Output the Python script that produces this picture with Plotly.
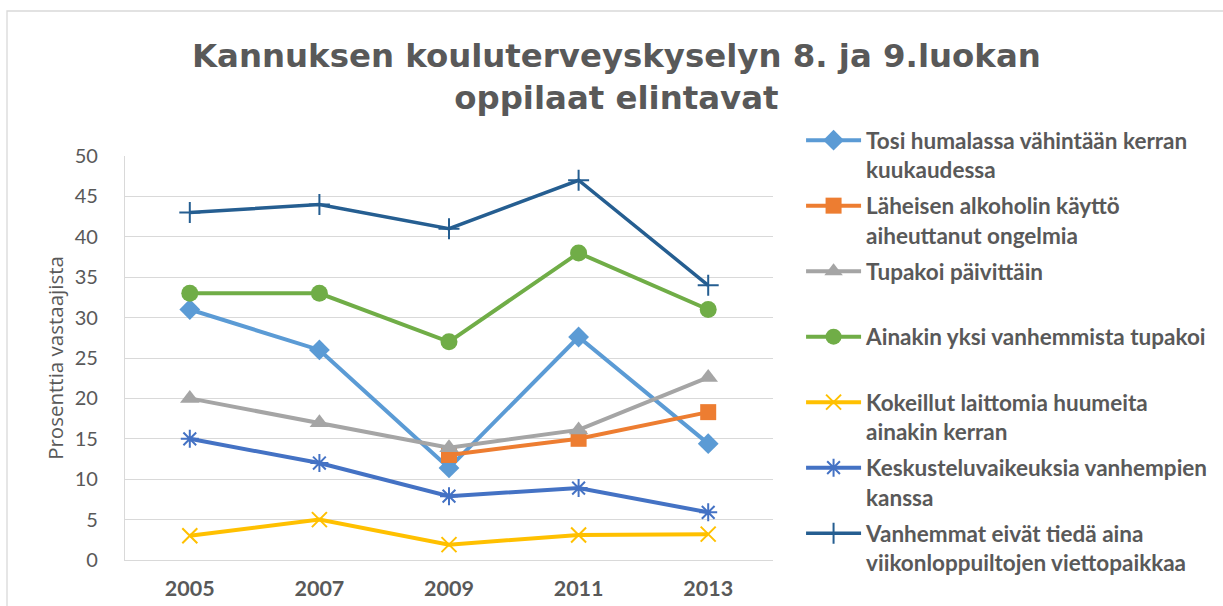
import plotly.graph_objects as go

years = ["2005", "2007", "2009", "2011", "2013"]

tosi_humalassa = [31, 26, 11.4, 27.6, 14.4]
laheisen_alkoholi = [None, None, 13.0, 15.0, 18.3]
tupakoi = [20, 17, 13.9, 16.1, 22.6]
vanhempi_tupakoi = [33, 33, 27, 38, 31]
huumeet = [3, 5, 1.9, 3.1, 3.2]
keskustelu = [15, 12, 7.9, 8.9, 5.9]
vanhemmat_eivat = [43, 44, 41, 47, 34]

series_names = [
    "Tosi humalassa vähintään kerran<br>kuukaudessa",
    "Läheisen alkoholin käyttö<br>aiheuttanut ongelmia",
    "Tupakoi päivittäin<br> ",
    "Ainakin yksi vanhemmista tupakoi<br> ",
    "Kokeillut laittomia huumeita<br>ainakin kerran",
    "Keskusteluvaikeuksia vanhempien<br>kanssa",
    "Vanhemmat eivät tiedä aina<br>viikonloppuiltojen viettopaikkaa",
]
series_values = [tosi_humalassa, laheisen_alkoholi, tupakoi, vanhempi_tupakoi,
                 huumeet, keskustelu, vanhemmat_eivat]
colors = ["#5B9BD5", "#ED7D31", "#A5A5A5", "#70AD47", "#FFC000", "#4472C4", "#255E91"]
symbols = ["diamond", "square", "triangle-up", "circle", "x-thin-open",
           "asterisk-open", "cross-thin-open"]
sizes = [16, 16, 17, 17, 15, 15, 15]

fig = go.Figure()
for name, vals, c, s, sz in zip(series_names, series_values, colors, symbols, sizes):
    thin = s.endswith("-open")
    fig.add_trace(go.Scatter(
        x=years, y=vals, name=name, mode="lines+markers",
        legendgroup=name,
        line=dict(color=c, width=4 if c != "#255E91" else 3.5),
        marker=dict(symbol=s, size=sz, color=c,
                    line=dict(color=c, width=2 if thin else 0)),
        connectgaps=False,
    ))

font_main = "Lato, 'Open Sans', sans-serif"
gray = "#595959"

fig.update_layout(
    template="none",
    width=1223, height=606,
    paper_bgcolor="white", plot_bgcolor="white",
    margin=dict(l=0, r=0, t=0, b=0, pad=0, autoexpand=False),
    title=dict(
        text="<b>Kannuksen kouluterveyskyselyn 8. ja 9.luokan<br>oppilaat elintavat</b>",
        x=0.504, xanchor="center", y=0.8895, yanchor="middle", automargin=False,
        font=dict(family="'DejaVu Sans', sans-serif", size=32.4, color=gray),
    ),
    legend=dict(
        x=0.655, xanchor="left", y=0.8036, yanchor="top",
        font=dict(family=font_main, size=22.5, color=gray, weight="bold"),
        valign="top", tracegroupgap=4, bgcolor="rgba(0,0,0,0)", borderwidth=0,
        itemwidth=55,
    ),
    showlegend=True,
)
fig.update_xaxes(
    type="category", range=[-0.5, 4.5], domain=[125 / 1223, 773 / 1223],
    automargin=False,
    showgrid=False, showline=True, linecolor="#D9D9D9", linewidth=1.3,
    ticks="", ticklabelstandoff=9,
    tickfont=dict(family=font_main, size=21.5, color=gray, weight="bold"),
)
fig.update_yaxes(
    range=[0, 50], dtick=5, tick0=0, domain=[46 / 606, 450 / 606],
    automargin=False,
    showgrid=True, gridcolor="#D9D9D9", gridwidth=1.3,
    showline=True, linecolor="#D9D9D9", linewidth=1.3,
    zeroline=False, ticks="", ticklabelstandoff=22,
    tickfont=dict(family=font_main, size=20, color=gray),
    title=dict(text="Prosenttia vastaajista", standoff=5,
               font=dict(family="'Open Sans', sans-serif", size=20.5, color=gray)),
)
fig.add_shape(type="rect", xref="paper", yref="paper",
              x0=7 / 1223, x1=1.01, y0=-0.01, y1=1 - 11 / 606,
              line=dict(color="#D9D9D9", width=1.3), fillcolor="rgba(0,0,0,0)",
              layer="below")

fig.write_html("out.html",
               config={"displayModeBar": False},
               post_script="document.body.style.margin='0';document.body.style.overflow='hidden';")
